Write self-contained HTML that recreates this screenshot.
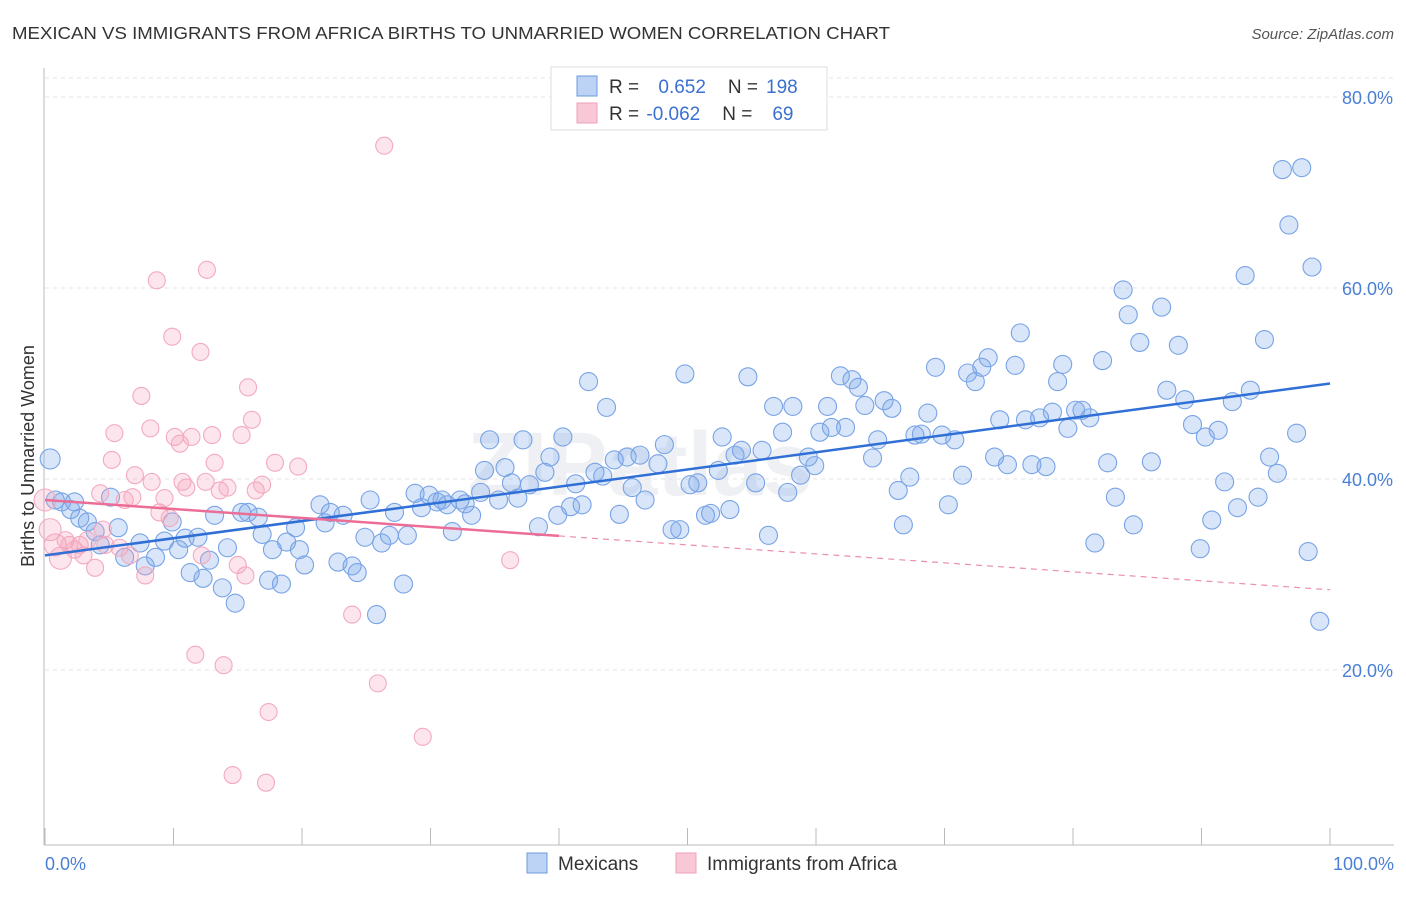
<!DOCTYPE html>
<html><head><meta charset="utf-8"><style>
body{margin:0;background:#fff;font-family:"Liberation Sans",sans-serif}
svg text{font-family:"Liberation Sans",sans-serif}
</style></head><body>
<svg id="c" width="1406" height="892" xmlns="http://www.w3.org/2000/svg">
<text x="12" y="39" font-size="17.5" fill="#333" textLength="878" lengthAdjust="spacingAndGlyphs">MEXICAN VS IMMIGRANTS FROM AFRICA BIRTHS TO UNMARRIED WOMEN CORRELATION CHART</text>
<text x="1394" y="39" font-size="15" fill="#555" text-anchor="end" font-style="italic">Source: ZipAtlas.com</text>
<text x="640" y="495" font-size="90" fill="#eef0f4" text-anchor="middle" font-weight="bold">ZIPatlas</text>
<g id="grid"></g><g id="axes"></g><g id="pts"></g><g id="trend"></g>
<text transform="translate(34,456) rotate(-90)" font-size="18" fill="#333" text-anchor="middle">Births to Unmarried Women</text>
<text x="45" y="870" font-size="18" fill="#4a7fd6">0.0%</text>
<text x="1394" y="870" font-size="18" fill="#4a7fd6" text-anchor="end">100.0%</text>
<g>
<rect x="551" y="67" width="276" height="63" fill="#fff" stroke="#ddd"/>
<rect x="577" y="76" width="20" height="20" fill="#bcd3f5" stroke="#6d9be0"/>
<rect x="577" y="103" width="20" height="20" fill="#f8c8d6" stroke="#f0a0b8"/>
<text x="609" y="93" font-size="19" fill="#333">R = <tspan fill="#3a70d0" dx="14">0.652</tspan><tspan dx="22" fill="#333">N =</tspan><tspan fill="#3a70d0" dx="8">198</tspan></text>
<text x="609" y="120" font-size="19" fill="#333">R = <tspan fill="#3a70d0" dx="2">-0.062</tspan><tspan dx="22" fill="#333">N =</tspan><tspan fill="#3a70d0" dx="20">69</tspan></text>
</g>
<g>
<rect x="527" y="853" width="20" height="20" fill="#bcd3f5" stroke="#6d9be0"/>
<text x="558" y="870" font-size="19" fill="#333">Mexicans</text>
<rect x="676" y="853" width="20" height="20" fill="#f8c8d6" stroke="#f0a0b8"/>
<text x="707" y="870" font-size="19" fill="#333">Immigrants from Africa</text>
</g>
</svg>
<script>
const yTicks=[20,40,60,80];
const yTickLabels=["20.0%","40.0%","60.0%","80.0%"];
const xTicks=[0,10,20,30,40,50,60,70,80,90,100];
const blueX=[0.4,0.8,1.3,2.0,2.3,2.7,3.3,3.9,4.3,5.1,5.7,6.2,7.4,7.8,8.6,9.3,9.9,10.4,10.9,11.3,11.9,12.3,12.8,13.2,13.8,14.2,14.8,15.3,15.8,16.6,16.9,17.4,17.7,18.4,18.8,19.5,19.8,20.2,21.4,21.8,22.2,22.8,23.2,23.9,24.3,24.9,25.3,25.8,26.2,26.8,27.2,27.9,28.2,28.8,29.3,29.9,30.5,30.9,31.3,31.7,32.3,32.7,33.2,33.9,34.2,34.6,35.3,35.8,36.3,36.8,37.2,37.7,38.4,38.9,39.3,39.9,40.3,40.9,41.3,41.8,42.3,42.8,43.4,43.7,44.3,44.7,45.3,45.7,46.3,46.7,47.7,48.2,48.8,49.4,49.8,50.2,50.8,51.4,51.8,52.4,52.7,53.3,53.7,54.2,54.7,55.3,55.8,56.3,56.7,57.4,57.8,58.2,58.8,59.4,59.9,60.3,60.9,61.2,61.9,62.3,62.8,63.3,63.8,64.4,64.8,65.3,65.9,66.4,66.8,67.3,67.7,68.2,68.7,69.3,69.8,70.3,70.8,71.4,71.8,72.4,72.9,73.4,73.9,74.3,74.9,75.5,75.9,76.3,76.8,77.4,77.9,78.4,78.8,79.2,79.6,80.2,80.7,81.3,81.7,82.3,82.7,83.3,83.9,84.3,84.7,85.2,86.1,86.9,87.3,88.2,88.7,89.3,89.9,90.3,90.8,91.3,91.8,92.4,92.8,93.4,93.8,94.4,94.9,95.3,95.9,96.3,96.8,97.4,97.8,98.3,98.6,99.2];
const blueY=[42.1,37.8,37.6,36.8,37.6,35.9,35.5,34.5,33.1,38.1,34.9,31.8,33.3,30.9,31.8,33.5,35.5,32.6,33.8,30.2,33.9,29.6,31.5,36.2,28.6,32.8,27.0,36.5,36.5,36.0,34.2,29.4,32.6,29.0,33.4,34.9,32.6,31.0,37.3,35.4,36.5,31.3,36.2,30.9,30.2,33.9,37.8,25.8,33.3,34.1,36.5,29.0,34.1,38.5,37.0,38.3,37.6,37.8,37.3,34.5,37.8,37.4,36.2,38.6,40.9,44.1,37.8,41.2,39.6,38.0,44.1,39.4,35.0,40.7,42.3,36.2,44.4,37.1,39.5,37.3,50.2,40.7,40.3,47.5,42.0,36.3,42.3,39.1,42.5,37.8,41.6,43.6,34.7,34.7,51.0,39.4,39.6,36.2,36.4,40.9,44.4,36.8,42.5,43.0,50.7,39.6,43.0,34.1,47.6,44.9,38.6,47.6,40.4,42.3,41.4,44.9,47.6,45.4,50.8,45.4,50.4,49.6,47.7,42.2,44.1,48.2,47.4,38.8,35.2,40.2,44.6,44.7,46.9,51.7,44.6,37.3,44.1,40.4,51.1,50.2,51.7,52.7,42.3,46.2,41.5,51.9,55.3,46.2,41.5,46.4,41.3,47.0,50.2,52.0,45.3,47.2,47.2,46.4,33.3,52.4,41.7,38.1,59.8,57.2,35.2,54.3,41.8,58.0,49.3,54.0,48.3,45.7,32.7,44.4,35.7,45.1,39.7,48.1,37.0,61.3,49.3,38.1,54.6,42.3,40.6,72.4,66.6,44.8,72.6,32.4,62.2,25.1];
const pinkX=[0,0.4,0.8,1.2,1.6,1.9,2.3,2.7,3.0,3.3,3.9,4.3,4.5,4.7,5.2,5.4,5.8,6.2,6.6,6.8,7.0,7.5,7.8,8.2,8.3,8.7,8.9,9.3,9.7,9.9,10.1,10.5,10.7,11.0,11.4,11.7,12.1,12.2,12.5,12.6,13.0,13.2,13.6,13.9,14.2,14.6,15.0,15.3,15.6,15.8,16.1,16.4,16.9,17.2,17.4,17.9,19.7,23.9,25.9,26.4,29.4,36.2];
const pinkY=[37.8,34.7,33.1,31.7,33.6,33.1,32.6,33.1,32.0,33.6,30.7,38.5,34.7,33.1,42.0,44.8,32.8,37.8,32.0,38.1,40.4,48.7,29.9,45.3,39.7,60.8,36.5,38.0,35.9,54.9,44.4,43.7,39.7,39.1,44.4,21.6,53.3,32.0,39.7,61.9,44.6,41.7,38.8,20.5,39.1,9.0,31.0,44.6,29.9,49.6,46.2,38.8,39.4,8.2,15.6,41.7,41.3,25.8,18.6,74.9,13.0,31.5];
const pinkBig=[0,1,2,3];
const blueTrend=[32.0,50.0];
const pinkTrend=[37.8,28.4];
const pinkSolidEnd=40;
const sx=v=>45+v*12.85, sy=v=>861-v*9.55;
const NS="http://www.w3.org/2000/svg";
function mk(t,a,p){const e=document.createElementNS(NS,t);for(const k in a)e.setAttribute(k,a[k]);p.appendChild(e);return e;}
const grid=document.getElementById('grid'),axes=document.getElementById('axes'),pts=document.getElementById('pts'),tr=document.getElementById('trend');
mk('line',{x1:45,x2:1394,y1:78,y2:78,stroke:'#e4e4e4','stroke-dasharray':'4,4'},grid);
yTicks.forEach((t,i)=>{const g=mk('line',{x1:45,x2:1394,y1:sy(t),y2:sy(t),stroke:'#e4e4e4','stroke-dasharray':'4,4'},grid);


const tx=mk('text',{x:1393,y:sy(t)+7,'font-size':18,fill:'#4a7fd6','text-anchor':'end'},grid);tx.textContent=yTickLabels[i];

});
const ax=mk('line',{x1:44,x2:44,y1:68,y2:845,stroke:'#bbb'},axes);


const bx=mk('line',{x1:44,x2:1394,y1:845,y2:845,stroke:'#bbb'},axes);


xTicks.forEach(t=>{const l=mk('line',{x1:sx(t),x2:sx(t),y1:828,y2:845,stroke:'#bbb'},axes);

});
blueX.forEach((x,i)=>{const c=mk('circle',{cx:sx(x),cy:sy(blueY[i]),r:i==0?10:9,fill:'rgba(120,165,235,0.28)',stroke:'#78a3e6','stroke-width':1.1},pts);

});
pinkX.forEach((x,i)=>{const c=mk('circle',{cx:sx(x),cy:sy(pinkY[i]),r:pinkBig.includes(i)?11:8.5,fill:'rgba(245,160,188,0.28)',stroke:'#f3aac0','stroke-width':1.1},pts);

});
const bl=mk('line',{x1:sx(0),y1:sy(blueTrend[0]),x2:sx(100),y2:sy(blueTrend[1]),stroke:'#2f6fd6','stroke-width':2.5},tr);


const pm=pinkTrend[0]+(pinkTrend[1]-pinkTrend[0])*pinkSolidEnd/100;
const pl=mk('line',{x1:sx(0),y1:sy(pinkTrend[0]),x2:sx(pinkSolidEnd),y2:sy(pm),stroke:'#ec6d96','stroke-width':2.5},tr);


const pd=mk('line',{x1:sx(pinkSolidEnd),y1:sy(pm),x2:sx(100),y2:sy(pinkTrend[1]),stroke:'#ec8eae','stroke-width':1.2,'stroke-dasharray':'6,5'},tr);


</script>
</body></html>
